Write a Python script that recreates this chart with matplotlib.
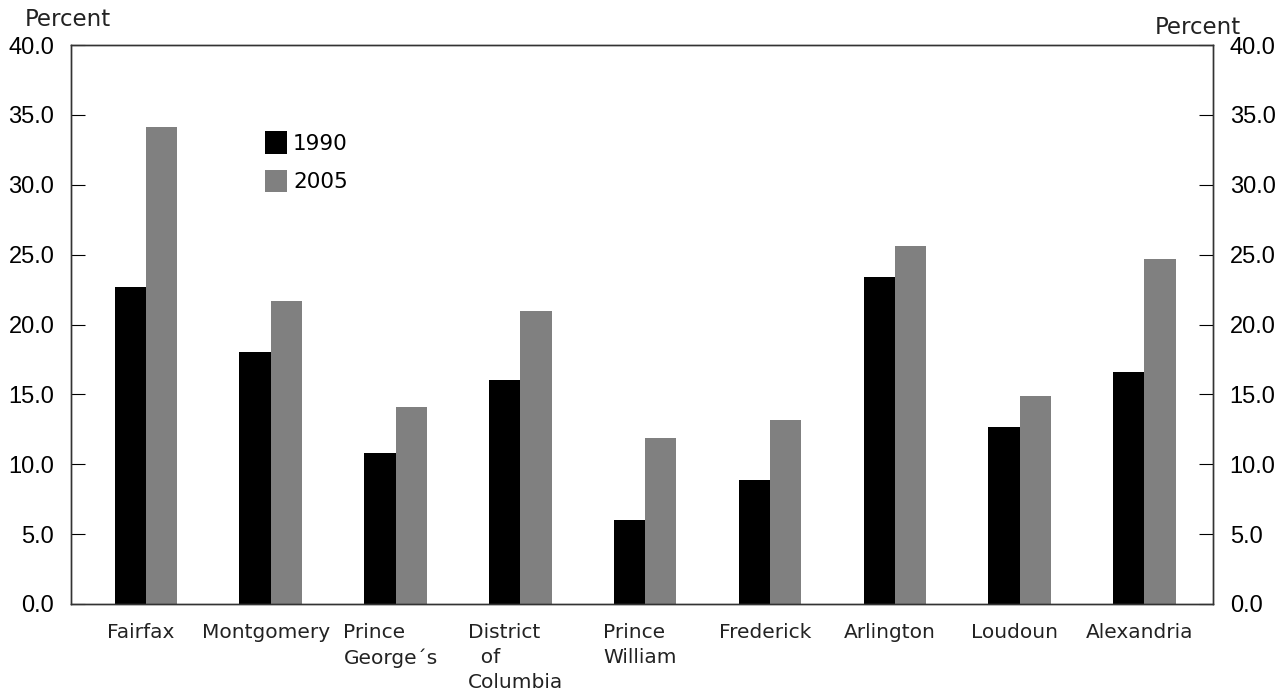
import numpy as np
import matplotlib.pyplot as plt

counties = ['Fairfax', 'Montgomery', 'Prince\nGeorge\u00b4s', 'District\n  of\nColumbia',
            'Prince\nWilliam', 'Frederick', 'Arlington', 'Loudoun', 'Alexandria']
share_1990 = [22.7, 18.0, 10.8, 16.0, 6.0, 8.9, 23.4, 12.7, 16.6]
share_2005 = [34.1, 21.7, 14.1, 21.0, 11.9, 13.2, 25.6, 14.9, 24.7]
yticks = [0, 5, 10, 15, 20, 25, 30, 35, 40]

plt.rcParams['font.family'] = ['Liberation Sans', 'DejaVu Sans']
label_font = ['DejaVu Sans']

fig = plt.figure(figsize=(12.86, 6.98), dpi=100)
ax = fig.add_axes([71 / 1286, 94 / 698, 1142 / 1286, 559 / 698])

x = np.arange(len(counties))
w = 0.25
ax.bar(x - w / 2, share_1990, w, color='black', label='1990')
ax.bar(x + w / 2, share_2005, w, color='#808080', label='2005')

ax.set_xlim(-0.6, 8.55)
ax.set_ylim(0, 40)
ax.set_yticks(yticks)
ax.set_yticklabels(['%.1f' % v for v in yticks], fontsize=17)
ax.tick_params(axis='y', direction='in', length=10, width=0.8, pad=12)
ax.set_xticks(x - 0.04)
ax.set_xticklabels(counties, fontsize=14.5, color='#222222', family=label_font,
                   va='top', linespacing=1.4)
for lbl in ax.get_xticklabels():
    lbl.set_horizontalalignment('center')
    lbl.set_multialignment('left')
ax.tick_params(axis='x', length=0, pad=14)

ax2 = ax.twinx()
ax2.set_ylim(0, 40)
ax2.set_yticks(yticks)
ax2.set_yticklabels(['%.1f' % v for v in yticks], fontsize=17)
ax2.tick_params(axis='y', direction='in', length=10, width=0.8, pad=12)

for a in (ax, ax2):
    for s in a.spines.values():
        s.set_linewidth(1.0)
        s.set_color('#333333')

ax.legend(loc='upper left', bbox_to_anchor=(0.153, 0.88), frameon=False,
          prop={'family': label_font, 'size': 15.5},
          handlelength=1.0, handleheight=1.2, handletextpad=0.3, labelspacing=0.75)

fig.text(25 / 1286, 1 - 20 / 698, 'Percent', fontsize=16.5, color='#222222',
         va='center', family=label_font)
fig.text(1155 / 1286, 1 - 28 / 698, 'Percent', fontsize=16.5, color='#222222',
         va='center', family=label_font)

fig.savefig('out.png', dpi=100)
